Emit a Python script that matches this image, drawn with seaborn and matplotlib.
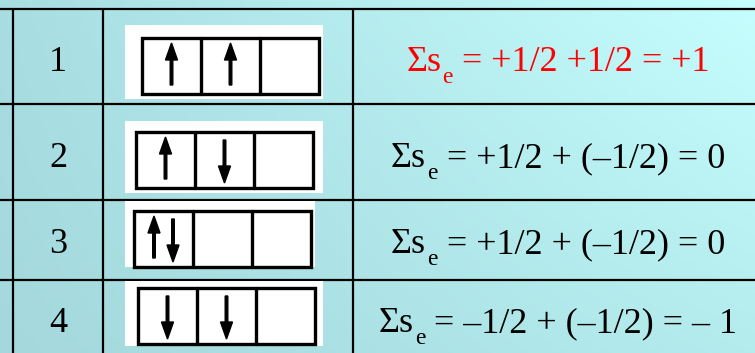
import numpy as np
import matplotlib.pyplot as plt
import seaborn as sns
from matplotlib.patches import Rectangle

# --- data ---
row_labels = ['1', '2', '3', '4']
# spins in each of the three orbitals: 'u' = up arrow, 'd' = down arrow
orbital_spins = [['u', 'u', ''],
                 ['u', 'd', ''],
                 ['ud', '', ''],
                 ['d', 'd', '']]
eq_symbol = 'Σs'
eq_subscript = 'e'
eq_rhs = [' = +1/2 +1/2 = +1',
          ' = +1/2 + (–1/2) = 0',
          ' = +1/2 + (–1/2) = 0',
          ' = –1/2 + (–1/2) = – 1']
eq_colors = ['#ff0000', 'black', 'black', 'black']

# --- layout (pixels) ---
W, H = 755, 353
row_edges = [9, 104, 200, 280, 360]
col_edges = [13, 103, 353]
baselines = [71, 167, 253, 332]
panel_right = [323, 323, 315, 323]
panel_top = [25, 121, 201, 281]
panel_bottom = [99, 193, 267, 346]
box_left = [142, 136, 134, 138]
box_top = [38, 132, 211, 288]
box_w, box_h = 177, 56
FONT = 'Liberation Serif'

sns.set_theme(style='white')
plt.rcParams['font.family'] = [FONT, 'DejaVu Serif']

fig = plt.figure(figsize=(W / 100, H / 100), dpi=100)
ax = fig.add_axes([0, 0, 1, 1])
ax.set_xlim(0, W)
ax.set_ylim(H, 0)
ax.axis('off')

# background gradient
left_top = np.array([168, 222, 226]) / 255
right_top = np.array([198, 253, 253]) / 255
left_bot = np.array([164, 216, 220]) / 255
right_bot = np.array([180, 236, 238]) / 255
gx = np.linspace(0, 1, 200)[None, :, None]
gy = np.linspace(0, 1, 100)[:, None, None]
grad = ((1 - gy) * ((1 - gx) * left_top + gx * right_top)
        + gy * ((1 - gx) * left_bot + gx * right_bot))
ax.imshow(grad, extent=[0, W, H, 0], aspect='auto', zorder=0)

# table lines
for y in row_edges[:-1]:
    ax.plot([0, W], [y, y], color='black', lw=1.6, zorder=1)
for x in col_edges:
    ax.plot([x, x], [row_edges[0], H], color='black', lw=1.6, zorder=1)

renderer = fig.canvas.get_renderer()
cw = box_w / 3
for i, label in enumerate(row_labels):
    ax.text((col_edges[0] + col_edges[1]) / 2, baselines[i], label, family=FONT,
            fontsize=26, ha='center', va='baseline', color='black', zorder=3)

    # white panel + orbital boxes
    ax.add_patch(Rectangle((125, panel_top[i]), panel_right[i] - 125,
                           panel_bottom[i] - panel_top[i],
                           facecolor='white', edgecolor='none', zorder=2))
    ax.add_patch(Rectangle((box_left[i], box_top[i]), box_w, box_h,
                           facecolor='none', edgecolor='black', lw=2.4, zorder=3))
    for k in (1, 2):
        xk = box_left[i] + k * cw
        ax.plot([xk, xk], [box_top[i], box_top[i] + box_h],
                color='black', lw=2.4, zorder=3)

    for j, spins in enumerate(orbital_spins[i]):
        cx = box_left[i] + (j + 0.5) * cw
        n = len(spins)
        for m, s in enumerate(spins):
            x_arr = cx + (m - (n - 1) / 2) * 19
            if s == 'u':
                y0, y1 = box_top[i] + box_h - 9, box_top[i] + 5
            else:
                y0, y1 = box_top[i] + 8, box_top[i] + box_h - 5
            ax.arrow(x_arr, y0, 0, y1 - y0, width=2.6, head_width=12,
                     head_length=17, length_includes_head=True,
                     color='black', zorder=4)

    # equation built from pieces: Σs, subscript e, right-hand side
    kw = dict(family=FONT, va='baseline', ha='left', color=eq_colors[i], zorder=3)
    t1 = ax.text(0, baselines[i], eq_symbol, fontsize=26, **kw)
    t2 = ax.text(0, baselines[i] + 12, eq_subscript, fontsize=17, **kw)
    t3 = ax.text(0, baselines[i], eq_rhs[i], fontsize=26, **kw)
    w1 = t1.get_window_extent(renderer).width
    w2 = t2.get_window_extent(renderer).width
    w3 = t3.get_window_extent(renderer).width
    x0 = (col_edges[2] + W) / 2 + 4 - (w1 + 1 + w2 + w3) / 2
    t1.set_x(x0)
    t2.set_x(x0 + w1 + 1)
    t3.set_x(x0 + w1 + 1 + w2)

fig.savefig('out.png', dpi=100)
